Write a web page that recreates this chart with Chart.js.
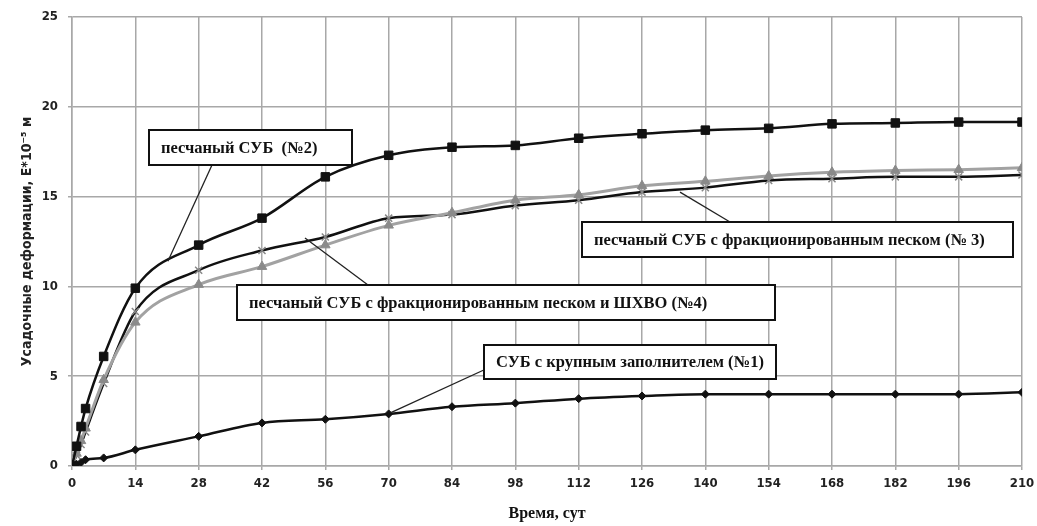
<!DOCTYPE html>
<html>
<head>
<meta charset="utf-8">
<script src="https://cdn.jsdelivr.net/npm/chart.js@4/dist/chart.umd.min.js"></script>
<style>
  html, body { margin: 0; padding: 0; background: #fff; }
  #wrap { width: 1037px; height: 526px; position: relative; }
</style>
</head>
<body>
<div id="wrap"><canvas id="c" width="1037" height="526"></canvas></div>
<script>
// ---- data ----
const days = [0, 1, 2, 3, 7, 14, 28, 42, 56, 70, 84, 98, 112, 126, 140, 154, 168, 182, 196, 210];
const series1 = [0, 0.1, 0.2, 0.35, 0.45, 0.9, 1.65, 2.4, 2.6, 2.9, 3.3, 3.5, 3.75, 3.9, 4.0, 4.0, 4.0, 4.0, 4.0, 4.1];
const series2 = [0, 1.1, 2.2, 3.2, 6.1, 9.9, 12.3, 13.8, 16.1, 17.3, 17.75, 17.85, 18.25, 18.5, 18.7, 18.8, 19.05, 19.1, 19.15, 19.15];
const series3 = [0, 0.6, 1.2, 1.9, 4.6, 8.6, 10.9, 12.0, 12.75, 13.8, 14.0, 14.5, 14.8, 15.25, 15.5, 15.9, 16.0, 16.1, 16.1, 16.2];
const series4 = [0, 0.7, 1.4, 2.1, 4.8, 8.0, 10.1, 11.1, 12.3, 13.4, 14.1, 14.8, 15.1, 15.6, 15.85, 16.15, 16.35, 16.45, 16.5, 16.6];
const xTicks = [0, 14, 28, 42, 56, 70, 84, 98, 112, 126, 140, 154, 168, 182, 196, 210];
const yTicks = [0, 5, 10, 15, 20, 25];
const labelTexts = [
  'песчаный СУБ  (№2)',
  'песчаный СУБ с фракционированным песком (№ 3)',
  'песчаный СУБ с фракционированным песком и ШХВО (№4)',
  'СУБ с крупным заполнителем (№1)'
];
const leaderDays = [21.2, 134.4, 51.5, 70.5];
const leaderVals = [11.4, 15.25, 12.7, 2.97];

// ---- layout / style (not data) ----
const boxes = [
  { x: 149, y: 130, w: 203, h: 35, sx: 212, sy: 165 },
  { x: 582, y: 222, w: 431, h: 35, sx: 730, sy: 222 },
  { x: 237, y: 285, w: 538, h: 35, sx: 368, sy: 285 },
  { x: 484, y: 345, w: 292, h: 34, sx: 486, sy: 369 }
];

const toXY = arr => days.map((d, i) => ({ x: d, y: arr[i] }));

const annot = {
  id: 'annot',
  afterDatasetsDraw(chart) {
    const ctx = chart.ctx;
    const xs = chart.scales.x, ys = chart.scales.y;
    ctx.save();
    boxes.forEach((b, i) => {
      ctx.strokeStyle = '#222';
      ctx.lineWidth = 1.3;
      ctx.beginPath();
      ctx.moveTo(b.sx, b.sy);
      ctx.lineTo(xs.getPixelForValue(leaderDays[i]), ys.getPixelForValue(leaderVals[i]));
      ctx.stroke();
      ctx.fillStyle = '#fff';
      ctx.fillRect(b.x, b.y, b.w, b.h);
      ctx.lineWidth = 2;
      ctx.strokeStyle = '#111';
      ctx.strokeRect(b.x, b.y, b.w, b.h);
      ctx.fillStyle = '#111';
      ctx.font = 'bold 16.5px "Liberation Serif", "Times New Roman", serif';
      ctx.textBaseline = 'middle';
      ctx.textAlign = 'left';
      ctx.fillText(labelTexts[i], b.x + 12, b.y + b.h / 2 + 1);
    });
    ctx.restore();
  }
};

const tickFont = { family: '"Liberation Sans Narrow", "DejaVu Sans Condensed", "Liberation Sans", sans-serif', size: 13, weight: 'bold' };

new Chart(document.getElementById('c'), {
  type: 'line',
  data: {
    datasets: [
      { label: '№1', data: toXY(series1), borderColor: '#111', backgroundColor: '#111', borderWidth: 2.5,
        pointStyle: 'rectRot', pointRadius: 4, pointBorderWidth: 1, pointBackgroundColor: '#111', pointBorderColor: '#111' },
      { label: '№2', data: toXY(series2), borderColor: '#111', backgroundColor: '#111', borderWidth: 2.5,
        pointStyle: 'rect', pointRadius: 6, pointBorderWidth: 1, pointBackgroundColor: '#111', pointBorderColor: '#111' },
      { label: '№4', data: toXY(series4), borderColor: '#a2a2a2', backgroundColor: '#8a8a8a', borderWidth: 3,
        pointStyle: 'triangle', pointRadius: 5.5, pointBorderWidth: 1, pointBackgroundColor: '#8a8a8a', pointBorderColor: '#8a8a8a' },
      { label: '№3', data: toXY(series3), borderColor: '#111', backgroundColor: '#888', borderWidth: 2.5,
        pointStyle: 'crossRot', pointRadius: 5, pointBorderWidth: 1.5, pointBackgroundColor: '#888', pointBorderColor: '#888' }
    ]
  },
  options: {
    responsive: false,
    animation: false,
    devicePixelRatio: 1,
    layout: { padding: { top: 17, right: 15, bottom: 0, left: 19 } },
    elements: { line: { tension: 0.4, cubicInterpolationMode: 'monotone' } },
    plugins: { legend: { display: false }, tooltip: { enabled: false } },
    scales: {
      x: {
        type: 'linear', min: 0, max: 210,
        afterBuildTicks: s => { s.ticks = xTicks.map(v => ({ value: v })); },
        afterFit: s => { s.height = 526 - 466; s.paddingRight = 0; s.paddingLeft = 0; },
        grid: { color: '#a8a8a8', lineWidth: 1.5, tickLength: 4, drawTicks: true },
        border: { color: '#a8a8a8', width: 1.5 },
        ticks: { color: '#222', font: tickFont, padding: 6, maxRotation: 0 },
        title: { display: true, text: 'Время, сут', color: '#111',
          font: { family: '"Liberation Serif", "Times New Roman", serif', size: 16, weight: 'bold' }, padding: { top: 2, bottom: 3 } }
      },
      y: {
        min: 0, max: 25,
        afterBuildTicks: s => { s.ticks = yTicks.map(v => ({ value: v })); },
        afterFit: s => { s.width = 53; s.paddingTop = 0; s.paddingBottom = 0; },
        grid: { color: '#a8a8a8', lineWidth: 1.5, tickLength: 4 },
        border: { color: '#a8a8a8', width: 1.5 },
        ticks: { color: '#222', font: tickFont, padding: 10 },
        title: { display: true, text: 'Усадочные деформации, Е*10⁻⁵ м', color: '#222',
          font: { family: '"Liberation Sans Narrow", "DejaVu Sans Condensed", sans-serif', size: 14, weight: 'bold' }, padding: { top: 0, bottom: 4 } }
      }
    }
  },
  plugins: [annot]
});
</script>
</body>
</html>
